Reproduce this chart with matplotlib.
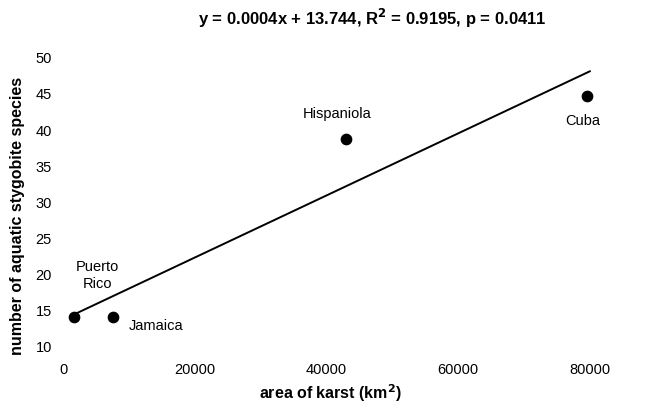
import numpy as np
import matplotlib
matplotlib.use("Agg")
import matplotlib.pyplot as plt

plt.rcParams['font.family'] = ['Liberation Sans', 'DejaVu Sans']

islands = ["Puerto\nRico", "Jamaica", "Hispaniola", "Cuba"]
karst_area = [1700, 7600, 43000, 79600]
species = [14, 14, 38.8, 44.7]
x_ticks = [0, 20000, 40000, 60000, 80000]
y_ticks = [10, 15, 20, 25, 30, 35, 40, 45, 50]
title = "y = 0.0004x + 13.744, R$^{\\mathbf{2}}$ = 0.9195, p = 0.0411"

W, H = 649, 411
fig = plt.figure(figsize=(W / 100, H / 100), dpi=100)
left, right, top, bottom = 63, 640, 58, 346
ax = fig.add_axes([left / W, 1 - bottom / H, (right - left) / W, (bottom - top) / H])

x = np.array(karst_area, dtype=float)
y = np.array(species, dtype=float)
slope, intercept = np.polyfit(x, y, 1)
xl = np.array([x.min(), 80000.0])
ax.plot(xl, slope * xl + intercept, color='black', lw=1.4, zorder=2)
ax.scatter(x, y, s=55, color='black', zorder=3)

offsets = {
    "Puerto\nRico": ((16.5, 30), 'center'),
    "Jamaica": ((11, -6), 'left'),
    "Hispaniola": ((-6.5, 17.5), 'center'),
    "Cuba": ((-3, -18), 'center'),
}
for name, xi, yi in zip(islands, x, y):
    (dx, dy), ha = offsets[name]
    ax.annotate(name, (xi, yi), xytext=(dx, dy), textcoords='offset points',
                ha=ha, va='center', fontsize=10.5, linespacing=1.3)

ax.set_xlim(0, (right - left) / 6.585 * 1000)
ax.set_ylim(10, 50)
ax.set_xticks(x_ticks)
ax.set_yticks(y_ticks)
ax.set_xticklabels([str(v) for v in x_ticks])
ax.set_yticklabels([str(v) for v in y_ticks])
for s in ax.spines.values():
    s.set_visible(False)
ax.tick_params(axis='both', length=0, labelsize=10.5)
ax.tick_params(axis='x', pad=12)
ax.tick_params(axis='y', pad=8)

fig.text(372 / W, 1 - 18 / H, title, ha='center', va='center', fontsize=12, fontweight='bold')
fig.text(330 / W, 1 - 393 / H, "area of karst (km$^{\\mathbf{2}}$)", ha='center', va='center',
         fontsize=11.5, fontweight='bold')
fig.text(18 / W, 1 - 216 / H, "number of aquatic stygobite species", ha='center', va='center',
         rotation=90, fontsize=11.5, fontweight='bold')

fig.savefig("out.png", dpi=100)
